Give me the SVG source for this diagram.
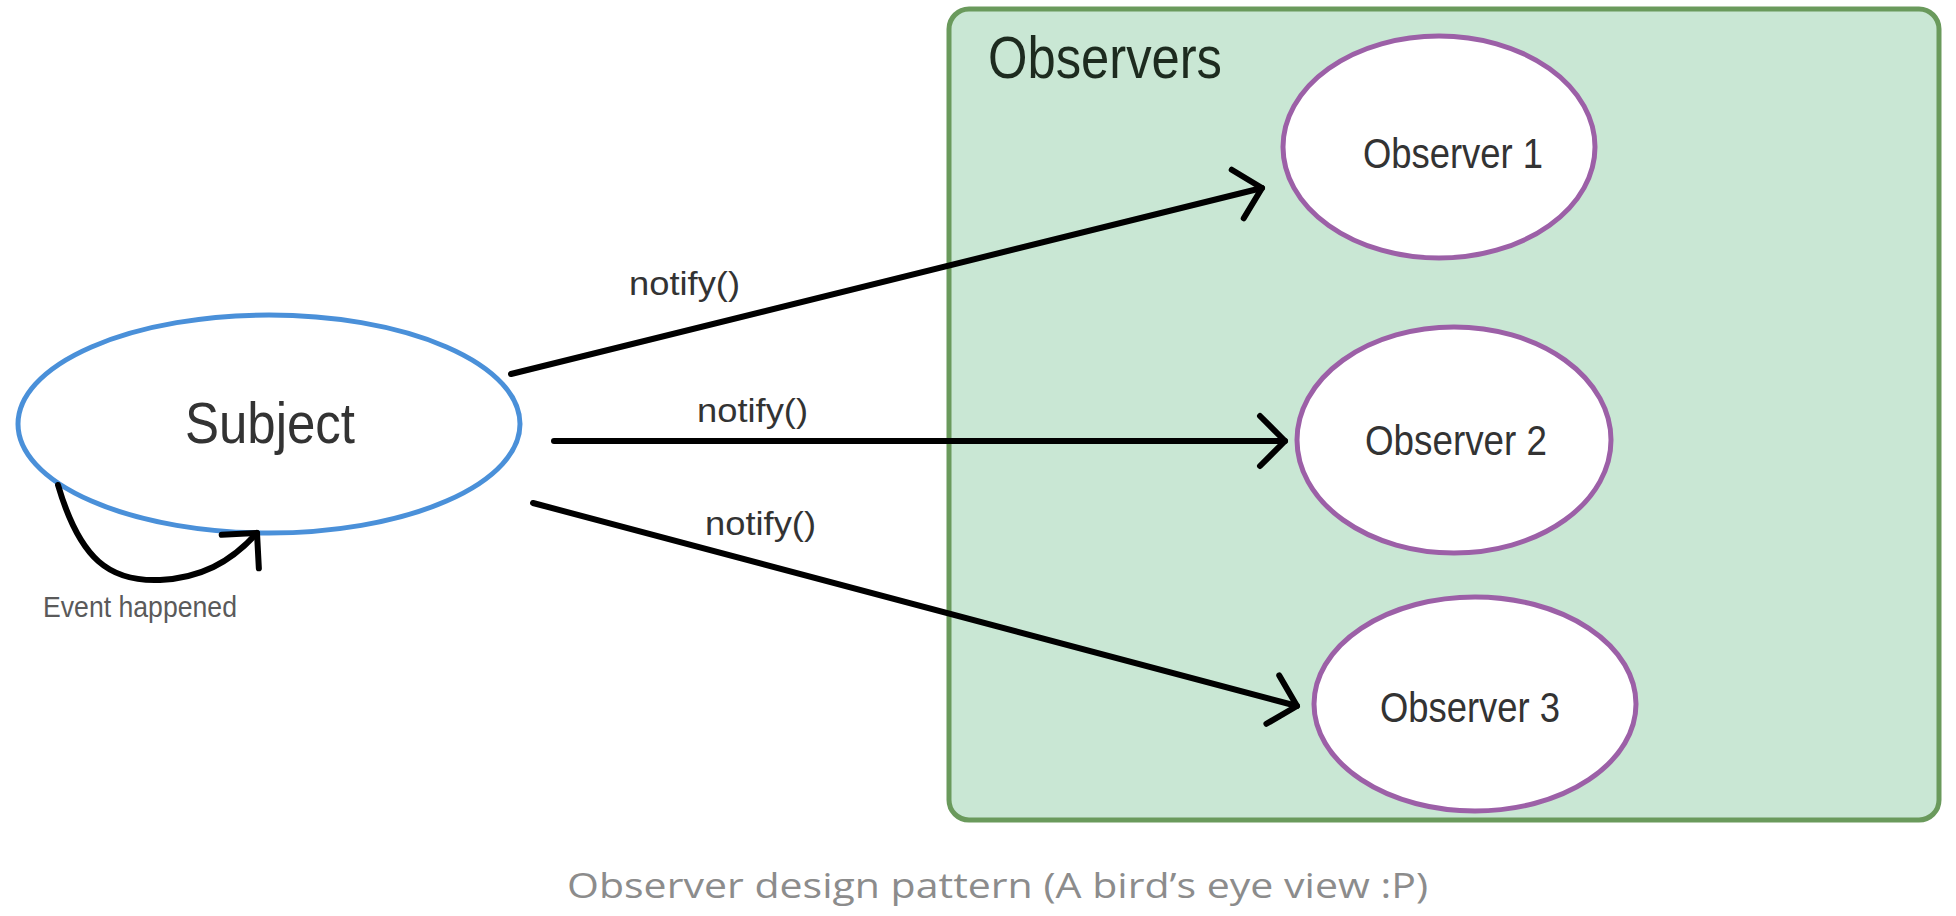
<svg xmlns="http://www.w3.org/2000/svg" width="1956" height="916" viewBox="0 0 1956 916">
  <style>
    .lbl { font-family: "Liberation Sans", Arial, sans-serif; fill: #333; }
    .obs { fill: #ffffff; stroke: #9c60a7; stroke-width: 5; }
    .edge { fill: none; stroke: #000; stroke-width: 6; stroke-linecap: round; }
  </style>
  <defs>
    <marker id="vhead" markerUnits="userSpaceOnUse" viewBox="-40 -40 50 80" markerWidth="50" markerHeight="80" refX="0" refY="0" orient="auto" overflow="visible">
      <path d="M -25 -25 L 0 0 L -25 25" fill="none" stroke="#000" stroke-width="6" stroke-linecap="round" stroke-linejoin="round"/>
    </marker>
  </defs>
  <rect width="1956" height="916" fill="#ffffff"/>

  <g id="observers-group">
    <rect x="949" y="9" width="990" height="811" rx="20" ry="20" fill="#c9e7d4" stroke="#6a9a5c" stroke-width="5"/>
    <text class="lbl" x="988" y="78" font-size="60" textLength="234" lengthAdjust="spacingAndGlyphs" fill="#1d2b1f" style="fill:#1d2b1f">Observers</text>
  </g>

  <g id="subject">
    <ellipse cx="269" cy="424" rx="251" ry="109" fill="#ffffff" stroke="#4a90d9" stroke-width="5"/>
    <text class="lbl" x="185" y="443" font-size="57" textLength="170" lengthAdjust="spacingAndGlyphs">Subject</text>
  </g>

  <g id="observer1">
    <ellipse class="obs" cx="1439" cy="147" rx="156" ry="111"/>
    <text class="lbl" x="1363" y="168" font-size="43" textLength="180" lengthAdjust="spacingAndGlyphs">Observer 1</text>
  </g>

  <g id="observer2">
    <ellipse class="obs" cx="1454" cy="440" rx="157" ry="113"/>
    <text class="lbl" x="1365" y="455" font-size="43" textLength="182" lengthAdjust="spacingAndGlyphs">Observer 2</text>
  </g>

  <g id="observer3">
    <ellipse class="obs" cx="1475" cy="704" rx="161" ry="107"/>
    <text class="lbl" x="1380" y="722" font-size="43" textLength="180" lengthAdjust="spacingAndGlyphs">Observer 3</text>
  </g>

  <g id="connectors">
    <line class="edge" x1="511" y1="374" x2="1262" y2="188" marker-end="url(#vhead)"/>
    <line class="edge" x1="554" y1="441" x2="1285" y2="441" marker-end="url(#vhead)"/>
    <line class="edge" x1="533" y1="503" x2="1297" y2="706" marker-end="url(#vhead)"/>
    <path class="edge" d="M 58 485 C 80 560, 110 582, 160 580 C 200 578, 230 563, 257 533" marker-end="url(#vhead)"/>
    <text class="lbl" x="629" y="295" font-size="33" textLength="111" lengthAdjust="spacingAndGlyphs">notify()</text>
    <text class="lbl" x="697" y="422" font-size="33" textLength="111" lengthAdjust="spacingAndGlyphs">notify()</text>
    <text class="lbl" x="705" y="535" font-size="33" textLength="111" lengthAdjust="spacingAndGlyphs">notify()</text>
    <text class="lbl" x="43" y="617" font-size="29" textLength="194" lengthAdjust="spacingAndGlyphs" style="fill:#5a5a5a">Event happened</text>
  </g>

  <text x="567" y="898" font-family="'Open Sans', 'Noto Sans', sans-serif" font-size="34" fill="#8c8c8c" textLength="861" lengthAdjust="spacingAndGlyphs">Observer design pattern (A bird’s eye view :P)</text>
</svg>
